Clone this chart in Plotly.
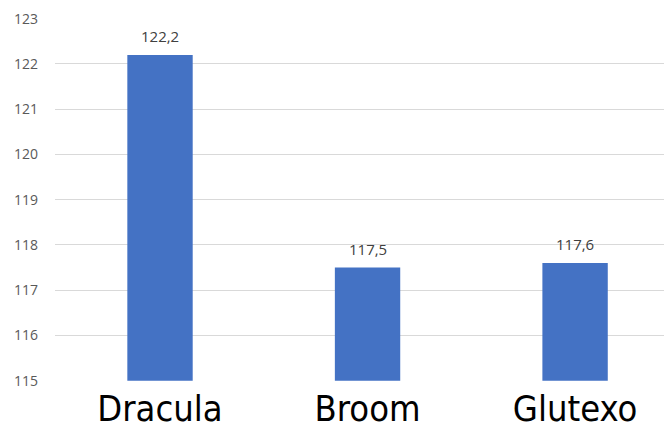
import plotly.graph_objects as go

categories = ["Dracula", "Broom", "Glutexo"]
values = [122.2, 117.5, 117.6]
value_labels = ["122,2", "117,5", "117,6"]
y_ticks = [115, 116, 117, 118, 119, 120, 121, 122, 123]
y_base = 115

fig = go.Figure(go.Bar(
    x=categories, y=[v - y_base for v in values], base=y_base,
    marker=dict(color="#4472C4", line=dict(width=0)),
    width=0.315,
    hoverinfo="skip",
))

for c, v, t in zip(categories, values, value_labels):
    fig.add_annotation(
        x=c, y=v, text=t, showarrow=False,
        yanchor="bottom", yshift=7,
        font=dict(family="Open Sans", size=15, color="#404040"),
    )

fig.update_layout(
    width=672, height=429,
    margin=dict(l=47, r=8, t=10, b=56, autoexpand=False),
    plot_bgcolor="white", paper_bgcolor="white",
    showlegend=False,
    xaxis=dict(
        range=[-0.506, 2.467],
        tickfont=dict(family="DejaVu Sans Condensed", size=36, color="#000000"),
        showgrid=False, zeroline=False, showline=False, ticks="",
        ticklabelstandoff=3, automargin=False,
    ),
    yaxis=dict(
        range=[114.995, 123.015],
        tickvals=y_ticks,
        ticktext=[str(t) for t in y_ticks],
        tickfont=dict(family="Open Sans", size=14, color="#595959"),
        showgrid=True, gridcolor="#D9D9D9", gridwidth=1,
        zeroline=False, showline=False, ticks="",
        ticklabelstandoff=16, automargin=False,
        ticklabeloverflow="allow",
    ),
)

fig.write_html("out.html")
